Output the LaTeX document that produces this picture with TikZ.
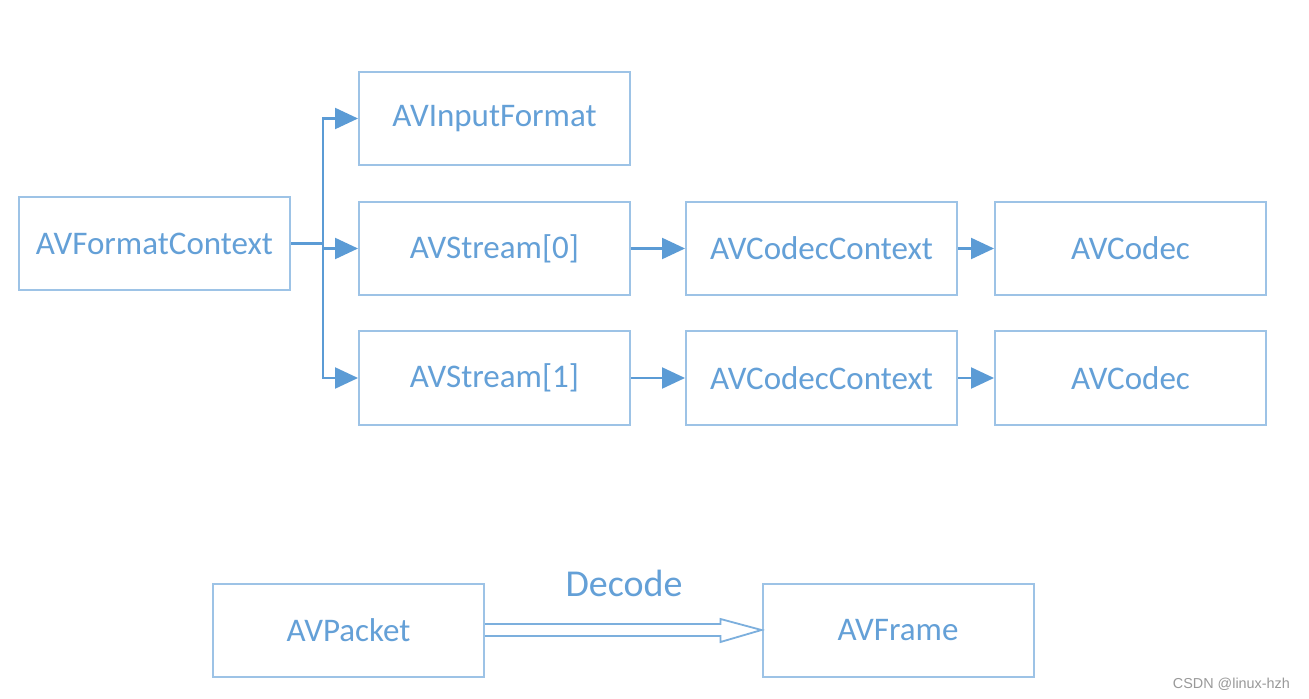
\documentclass[tikz,border=0pt]{standalone}
\usepackage{fontspec}
\setmainfont{Carlito}
\usetikzlibrary{arrows.meta,calc}
\definecolor{boxc}{RGB}{157,195,230}
\definecolor{txtc}{RGB}{100,160,215}
\definecolor{arrc}{RGB}{91,155,213}
\tikzset{
  bx/.style={draw=boxc, line width=1pt, minimum width=135.5pt, minimum height=46.5pt, inner sep=0pt, text=txtc, font=\fontsize{16.5}{18}\selectfont},
  conn/.style={draw=arrc, line width=1.1pt, -{Triangle[length=11.5pt,width=10.5pt]}},
}
\begin{document}
\begin{tikzpicture}[x=0.5pt,y=-0.5pt]
\useasboundingbox (0,0) rectangle (1309,699);
\fill[white] (0,0) rectangle (1309,699);
\node[bx] (fc) at (154.5,243.5) {AVFormatContext};
\node[bx] (inf) at (494.5,118.5) {AVInputFormat};
\node[bx] (s0) at (494.5,248.5) {AVStream[0]};
\node[bx] (s1) at (494.5,378) {AVStream[1]};
\node[bx] (cc0) at (821.5,248.5) {AVCodecContext};
\node[bx] (cc1) at (821.5,378) {AVCodecContext};
\node[bx] (c0) at (1130.5,248.5) {AVCodec};
\node[bx] (c1) at (1130.5,378) {AVCodec};
\node[bx] (pk) at (348.5,630) {AVPacket};
\node[bx] (fr) at (898,630) {AVFrame};
\coordinate (tr) at (323,243.5);
\draw[draw=arrc, line width=1.1pt] (fc.east) -- (tr);
\draw[conn] (tr) |- (inf.west);
\draw[conn] (tr) |- (s1.west);
\draw[conn] (tr) |- (s0.west);
\draw[conn] (s0) -- (cc0);
\draw[conn] (s1) -- (cc1);
\draw[conn] (cc0) -- (c0);
\draw[conn] (cc1) -- (c1);
\draw[draw=arrc!80, line width=0.9pt, fill=white, line join=miter]
  ($(pk.east)+(0,-6)$) -- ($(fr.west)+(-41,-6)$) -- ($(fr.west)+(-41,-11)$) -- (fr.west)
  -- ($(fr.west)+(-41,12)$) -- ($(fr.west)+(-41,6)$) -- ($(pk.east)+(0,6)$);
\node[text=txtc, font=\fontsize{19}{21}\selectfont] (dec) at (624,583) {Decode};
\node[text=gray!80, font=\fontspec{Liberation Sans}\fontsize{7.2}{9}\selectfont, anchor=east] (wm) at (1297,684) {CSDN @linux-hzh};
\end{tikzpicture}
\end{document}
